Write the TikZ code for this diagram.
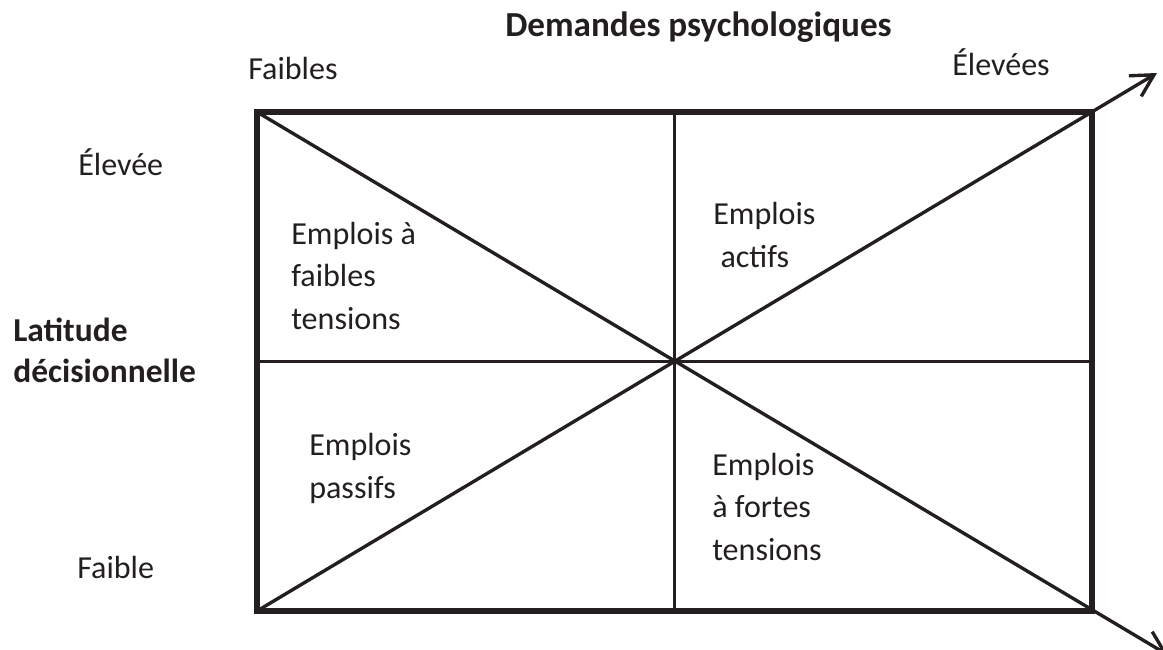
\documentclass[tikz,border=0pt]{standalone}
\usepackage{fontspec}
\setmainfont{Carlito}
\usetikzlibrary{arrows.meta,calc}
\definecolor{encre}{HTML}{231F20}
\newcommand{\cadre}{\draw[line width=3.6pt,color=encre]}
\newcommand{\trait}{\draw[line width=2.4pt,color=encre]}
\newcommand{\fleche}{\draw[-{Straight Barb[length=0.55cm,width=0.6cm]},line width=2.4pt,color=encre]}

\begin{document}
\begin{tikzpicture}[x=0.025cm,y=-0.025cm,
    texte/.style={anchor=base west,inner sep=0pt,align=left,text=encre,
      font=\fontsize{22.8pt}{29.9pt}\selectfont},
    gras/.style={texte,font=\fontsize{23.8pt}{28.5pt}\selectfont\bfseries}]
      \useasboundingbox (0,0) rectangle (1163,650);

      % coins du cadre
      \coordinate (hg) at (257,112);
      \coordinate (hd) at (1092,112);
      \coordinate (bd) at (1092,611);
      \coordinate (bg) at (257,611);
      \coordinate (mil) at ($(hg)!0.5!(bd)$);
      \coordinate (fh) at (1157,73);
      \coordinate (fb) at (1168,655);

      % croix et diagonales
      \trait (mil |- hg) -- (mil |- bg);
      \trait (hg |- mil) -- (hd |- mil);
      \fleche (hg) -- (fb);
      \fleche (bg) -- (fh);
      \cadre (hg) rectangle (bd);

      % axes (base = derniere ligne)
      \node(titre)    [gras,font=\fontsize{25pt}{30pt}\selectfont\bfseries] at (505,37) {Demandes psychologiques};
      \node(faibles)  [texte] at (248,79)  {Faibles};
      \node(elevees)  [texte,anchor=base east] at (1050,76) {Élevées};
      \node(elevee)   [texte] at (78,175)  {Élevée};
      \node(latitude) [gras]  at (13,382)  {Latitude\\décisionnelle};
      \node(faible)   [texte] at (77,578)  {Faible};

      % quadrants
      \node(tfaibles) [texte] at (291,329) {Emplois à\\faibles\\tensions};
      \node(actifs)   [texte] at (713,267) {Emplois\\~actifs};
      \node(passifs)  [texte] at (309,498) {Emplois\\passifs};
      \node(tfortes)  [texte] at (712,560) {Emplois\\à fortes\\tensions};
   \end{tikzpicture}
\end{document}
